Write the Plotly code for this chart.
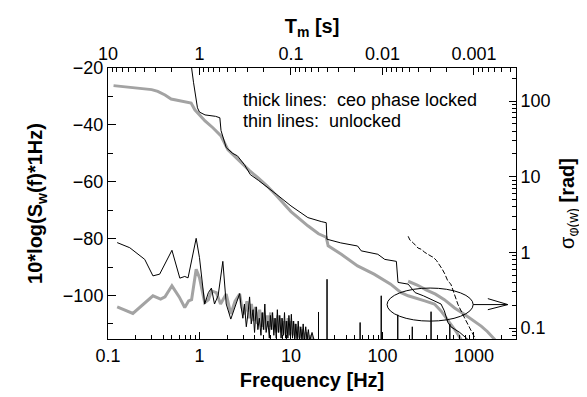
import plotly.graph_objects as go

# ---------------- data ----------------
# thick grey, long descending curve (locked), left axis [dB]
lock_f = [0.115, 0.16, 0.22, 0.3, 0.35, 0.42, 0.49, 0.6, 0.72, 0.81, 0.89, 1.0, 1.15, 1.4, 1.72,
          2.05, 2.4, 2.84, 3.5, 4.35, 5.5, 7, 10, 15.3, 20, 24.3, 25.5, 35.5, 53.5, 81,
          123, 160, 191, 290, 370, 437, 500, 570, 650, 740]
lock_db = [-26.2, -26.6, -27.0, -27.6, -28.2, -29.5, -30.9, -31.4, -31.9, -32.3, -34.7, -36.5, -38.6, -41.0, -43.9,
           -48.8, -51.0, -53.3, -56.0, -58.6, -61.5, -65.0, -70.5, -75.5, -78.3, -79.5, -82.5, -85.5, -89.6, -92.5,
           -96.0, -99.0, -100.1, -101.9, -103.0, -105.4, -108.0, -110.6, -113.0, -116.0]

# thin black, long descending curve (unlocked), left axis [dB]
unl_f = [0.79, 0.82, 0.86, 0.9, 0.95, 1.0, 1.15, 1.5, 1.67, 1.72, 1.96, 2.3, 2.6, 3.1, 3.6, 4.4, 5.2,
         7, 10, 15.3, 21.4, 24.3, 24.7, 35, 53.5, 58.6, 89, 106, 142, 148, 191, 228, 280, 370,
         437, 475, 520, 560, 700, 900]
unl_db = [-10, -20, -25, -30, -34, -35.5, -36.5, -37.0, -37.5, -42.0, -48.0, -50.0, -50.9, -54.0, -57.5, -59.5, -61.4,
          -64.5, -68.5, -72.6, -74.0, -74.4, -80.2, -81.5, -82.6, -84.3, -85.5, -87.3, -88.0, -95.4, -96.0, -99.0, -100.1, -101.9,
          -103.0, -105.4, -109.5, -111.0, -113.0, -116.0]

# thick grey short segment, right axis [rad]
seg_f = [191, 240, 300, 380, 475, 540, 615, 800, 1000, 1200, 1400, 1700]
seg_sig = [0.415, 0.37, 0.32, 0.28, 0.237, 0.21, 0.184, 0.15, 0.125, 0.106, 0.09, 0.07]

# thin dashed black, right axis [rad]
dash_f = [191, 200, 215, 245, 265, 290, 340, 360, 390, 437, 450, 480, 520, 560, 590, 640, 670, 790, 900, 1050]
dash_sig = [1.63, 1.45, 1.35, 1.14, 1.1, 1.0, 0.89, 0.86, 0.78, 0.65, 0.6, 0.52, 0.415, 0.38, 0.32, 0.25, 0.204, 0.136, 0.1, 0.07]

# thick grey PSD (locked), left axis [dB]
gpsd_f = [0.126, 0.187, 0.31, 0.376, 0.42, 0.5, 0.6, 0.69, 0.76, 0.82, 0.92, 1.0, 1.14, 1.25, 1.35,
          1.53, 1.7, 1.96, 2.2, 2.45, 2.75, 2.9, 3.1, 3.3, 3.5, 3.7, 3.9, 4.1, 4.3, 4.55, 4.8,
          5.0, 5.25, 5.5, 5.75, 6.0, 6.3, 6.6, 6.9, 7.2, 7.5, 7.8, 8.1, 8.5, 8.9, 9.3, 9.7,
          10.1, 10.6, 11.1, 11.6, 12.1, 12.7, 13.3, 14.0, 14.7, 15.5, 16.5, 18]
gpsd_db = [-104.0, -106.3, -100.1, -101.3, -100.5, -96.6, -100.5, -104.2, -101.9, -101.5, -90.8, -93.7, -102.5, -101.5, -98.4,
           -99.0, -103.0, -99.5, -106.5, -102.0, -99.5, -104.0, -106.6, -102.0, -108.0, -103.0, -109.0, -104.0, -110.0, -105.0, -111.0,
           -106.0, -112.0, -107.0, -111.0, -106.0, -112.0, -108.0, -113.0, -107.0, -113.0, -108.0, -114.0, -109.0, -114.0, -108.0, -114.0,
           -109.0, -114.0, -110.0, -115.0, -111.0, -115.0, -112.0, -116.0, -113.0, -116.0, -114.0, -116.5]

# thin black PSD (unlocked) with line spikes, left axis [dB]
bpsd_f = [0.126, 0.173, 0.252, 0.31, 0.367, 0.5, 0.61, 0.69, 0.75, 0.92, 1.0, 1.14, 1.25, 1.35, 1.46,
          1.6, 1.8, 1.96, 2.2, 2.5, 2.75, 2.85, 2.98, 3.1, 3.25, 3.4, 3.53, 3.68, 3.85, 4.0, 4.17,
          4.35, 4.51, 4.7, 4.85, 5.0, 5.18, 5.35, 5.6, 5.8, 5.95, 6.1, 6.3, 6.5, 6.7, 6.9, 7.1,
          7.3, 7.55, 7.8, 8.0, 8.25, 8.5, 8.75, 9.0, 9.25, 9.5, 9.8, 10.1, 10.4, 10.7, 11.0, 11.3,
          11.7, 12.0, 12.4, 12.8, 13.2, 13.6, 14.0, 14.5, 15.0, 15.5, 16.0, 17, 18,
          20, 20, 20, 24.8, 24.8, 24.8, 57, 57, 57, 97, 97, 97, 147, 147, 147,
          212, 212, 212, 340, 340, 340, 545, 545, 545, 3000]
bpsd_db = [-81.4, -83.2, -87.3, -93.1, -92.5, -84.1, -93.9, -93.3, -93.8, -79.9, -86.7, -103.0, -99.0, -97.4, -103.0,
           -100.0, -88.0, -103.0, -108.3, -103.0, -99.3, -104.0, -108.0, -103.0, -111.0, -106.0, -100.5, -110.0, -105.0, -113.0, -104.0,
           -112.0, -108.0, -114.0, -106.0, -112.0, -103.0, -113.0, -109.0, -115.0, -107.0, -112.0, -106.0, -114.0, -108.0, -115.0, -105.0,
           -113.0, -107.0, -115.0, -108.0, -114.0, -106.0, -115.0, -109.0, -115.0, -107.0, -114.0, -106.6, -115.0, -109.0, -116.0, -110.0,
           -116.0, -109.0, -116.0, -111.0, -116.0, -110.0, -116.0, -111.0, -116.0, -112.0, -116.0, -113.0, -116.0,
           -116.0, -105.8, -116.0, -116.0, -94.3, -116.0, -116.0, -109.5, -116.0, -116.0, -100.1, -116.0, -116.0, -106.8, -116.0,
           -116.0, -111.0, -116.0, -116.0, -105.7, -116.0, -116.0, -110.0, -116.0, -116.0]

x_ticks = [0.1, 1, 10, 100, 1000]
x_ticktext = ["0.1", "1", "10", "100", "1000"]
t_ticks = [10, 1, 0.1, 0.01, 0.001]
t_ticktext = ["10", "1", "0.1", "0.01", "0.001"]
y_ticks = [-20, -40, -60, -80, -100]
y_minor = [-30, -50, -70, -90, -110]
s_ticks = [0.1, 1, 10, 100]
s_ticktext = ["0.1", "1", "10", "100"]

GREY = "#a3a3a3"
FONT = "Liberation Sans, Arial, sans-serif"

def log_minor(lo, hi):
    vals = []
    for e in range(lo, hi):
        for m in range(2, 10):
            vals.append(m * 10 ** e)
    return vals

fig = go.Figure()
fig.add_trace(go.Scatter(x=gpsd_f, y=gpsd_db, mode="lines", line=dict(color=GREY, width=3)))
fig.add_trace(go.Scatter(x=lock_f, y=lock_db, mode="lines", line=dict(color=GREY, width=3)))
fig.add_trace(go.Scatter(x=seg_f, y=seg_sig, mode="lines", line=dict(color=GREY, width=3), yaxis="y2"))
fig.add_trace(go.Scatter(x=bpsd_f, y=bpsd_db, mode="lines", line=dict(color="black", width=1)))
fig.add_trace(go.Scatter(x=unl_f, y=unl_db, mode="lines", line=dict(color="black", width=1)))
fig.add_trace(go.Scatter(x=dash_f, y=dash_sig, mode="lines", line=dict(color="black", width=1, dash="5px,2px"), yaxis="y2"))
# invisible trace to carry the top (period) axis
fig.add_trace(go.Scatter(x=[1.0 / f for f in lock_f], y=lock_db, mode="lines", xaxis="x2",
                         line=dict(width=0), opacity=0, hoverinfo="skip"))

tickfont = dict(family=FONT, size=18, color="black")
titlefont = dict(family=FONT, size=20, color="black")
common = dict(showline=True, linecolor="black", linewidth=1, showgrid=False, zeroline=False,
              ticks="inside", tickcolor="black", tickfont=tickfont)

fig.update_layout(
    width=587, height=397, margin=dict(l=100, r=79, t=60, b=66),
    plot_bgcolor="white", paper_bgcolor="white", showlegend=False,
    xaxis=dict(type="log", range=[-1, 3.46], tickvals=x_ticks, ticktext=x_ticktext, ticklen=7,
               minor=dict(tickvals=log_minor(-1, 4), ticks="inside", ticklen=4, tickcolor="black"),
               title=dict(text="<b>Frequency [Hz]</b>", font=titlefont, standoff=8), **common),
    xaxis2=dict(type="log", overlaying="x", side="top", anchor="y", range=[1, -3.46],
                tickvals=t_ticks, ticktext=t_ticktext, ticklen=7,
                minor=dict(tickvals=log_minor(-4, 1), ticks="inside", ticklen=4, tickcolor="black"),
                title=dict(text="<b>T<sub>m</sub> [s]</b>", font=titlefont, standoff=4), **common),
    yaxis=dict(range=[-115.3, -20], tickvals=y_ticks, ticklen=8,
               minor=dict(tickvals=y_minor, ticks="inside", ticklen=5, tickcolor="black"),
               title=dict(text="<b>10*log(S<sub>w</sub>(f)*1Hz)</b>", font=titlefont, standoff=14), **common),
    yaxis2=dict(type="log", overlaying="y", side="right", anchor="x", range=[-1.145, 2.436],
                tickvals=s_ticks, ticktext=s_ticktext, ticklen=7,
                minor=dict(tickvals=log_minor(-2, 3), ticks="inside", ticklen=4, tickcolor="black"),
                title=dict(text="σ<sub>φ(w)</sub> <b>[rad]</b>", font=titlefont, standoff=10), **common),
)

# legend-like text
fig.add_annotation(x=0.326, y=0.882, xref="paper", yref="paper", xanchor="left", yanchor="middle",
                   text="thick lines:\u00a0 ceo phase locked", showarrow=False,
                   font=dict(family=FONT, size=18, color="black"))
fig.add_annotation(x=0.326, y=0.804, xref="paper", yref="paper", xanchor="left", yanchor="middle",
                   text="thin lines:\u00a0 unlocked", showarrow=False,
                   font=dict(family=FONT, size=18, color="black"))

# ellipse and arrow pointing to the right axis
fig.add_shape(type="circle", xref="paper", yref="paper", x0=0.684, x1=0.895, y0=0.066, y1=0.188,
              line=dict(color="black", width=1))
fig.add_shape(type="line", xref="paper", yref="paper", x0=0.895, x1=0.98, y0=0.127, y1=0.127,
              line=dict(color="black", width=1))
fig.add_shape(type="line", xref="paper", yref="paper", x0=0.931, x1=0.98, y0=0.149, y1=0.127,
              line=dict(color="black", width=1))
fig.add_shape(type="line", xref="paper", yref="paper", x0=0.931, x1=0.98, y0=0.108, y1=0.127,
              line=dict(color="black", width=1))

fig.write_html("out.html")
